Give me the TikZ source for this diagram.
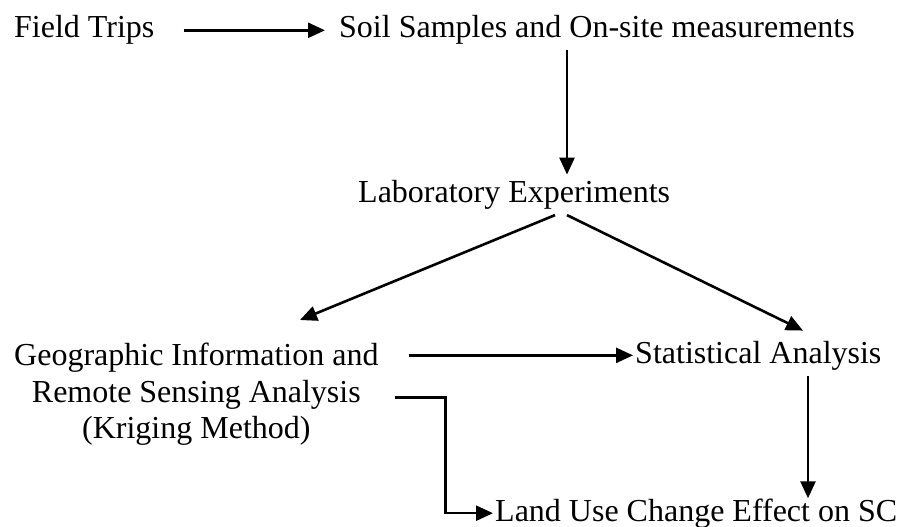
\documentclass[tikz,border=0pt]{standalone}
\usepackage{fontspec}
\setmainfont{Liberation Serif}
\usetikzlibrary{arrows.meta}

\begin{document}
\begin{tikzpicture}[
  x=1pt,y=-1pt,
  font=\fontsize{32}{36.5}\selectfont,
  >={Triangle[length=17pt,width=15pt]},
  lbl/.style={inner sep=0pt,anchor=base west},
  arr/.style={->,line width=2.6pt},
]
\useasboundingbox (0,0) rectangle (902,527);

% ===== top row =====
\node[lbl] (field) at (14,38) {Field Trips};
\node[lbl] (soil) at (339,38) {Soil Samples and On-site measurements};
\draw[arr,shorten <=29pt,shorten >=14pt] (field.east) -- (soil.west);

% ===== lab =====
\node[lbl] (lab) at (358,202) {Laboratory Experiments};
\draw[arr] ([xshift=228pt,yshift=-5pt]soil.south west) -- ([xshift=209pt,yshift=5pt]lab.north west);

% ===== middle row =====
\node[inner sep=0pt,anchor=north west,align=center] (geo) at (14,343)
  {Geographic Information and\\Remote Sensing Analysis\\(Kriging Method)};
\node[lbl] (stat) at (635,363) {Statistical Analysis};
\draw[arr] ([xshift=197pt,yshift=-6pt]lab.south west) -- ([xshift=286pt,yshift=23pt]geo.north west);
\draw[arr] ([xshift=209pt,yshift=-6pt]lab.south west) -- ([xshift=168pt,yshift=10pt]stat.north west);
\draw[arr,shorten >=2pt] ([xshift=30pt]stat.west -| geo.east) -- (stat.west);

% ===== bottom =====
\node[lbl] (land) at (495,521) {Land Use Change Effect on SC};
\draw[arr,shorten >=2pt] ([xshift=16pt,yshift=-3pt]geo.east) -- ++(51,0) |- (land.west);
\draw[arr] ([xshift=173pt,yshift=-6pt]stat.south west) -- ([xshift=173pt]stat.south west |- land.north);
\end{tikzpicture}
\end{document}
